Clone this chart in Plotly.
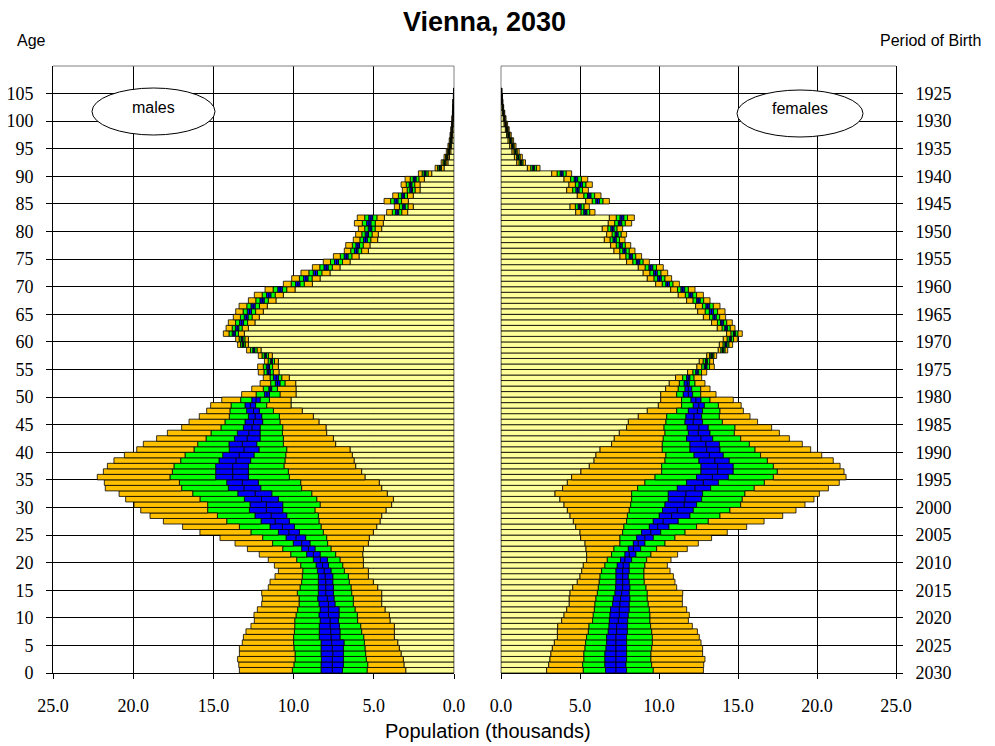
import plotly.graph_objects as go

# ---------------- data (thousands) ----------------
ages = list(range(106))

# males: boundaries from 0 outward: yellow end, orange, green, blue(median), blue, green, orange(outer)
m_a = [3.01, 3.12, 3.16, 3.30, 3.41, 3.51, 3.72, 3.72, 3.72, 3.99, 4.03, 4.30, 4.51, 4.51, 4.51, 4.76, 5.03, 5.34, 5.34,
       5.65, 5.65, 5.69, 5.65, 5.34, 5.28, 5.03, 4.82, 4.61, 4.51, 4.24, 3.89, 3.78, 4.16, 4.51, 4.66, 5.55, 5.76, 6.13, 6.23,
       6.34, 6.48, 7.38, 7.52, 7.94, 7.98, 8.42, 8.77, 9.46, 10.16, 10.16, 9.85, 9.85, 9.87, 10.27,
       10.91, 10.95, 10.95, 11.33, 12.03, 12.82, 12.82, 13.07, 12.82, 12.41, 12.14, 11.89, 11.64, 11.10, 10.64, 9.91, 8.83,
       8.35, 7.73, 7.11, 6.48, 5.92, 5.34, 5.24, 4.76, 4.72, 4.51, 4.41, 4.34, 2.89, 2.54, 2.85, 2.54, 2.12, 2.12, 1.85, 1.39, 0.62,
       0.38, 0.28, 0.20, 0.15, 0.12, 0.10, 0.08, 0.06, 0.05, 0.04, 0.03, 0.02, 0.015, 0.01]
m_b = [5.42, 5.38, 5.47, 5.51, 5.55, 5.59, 5.63, 5.76, 5.82, 6.01, 6.03, 6.17, 6.28, 6.28, 6.38, 6.42, 6.53, 6.59, 6.84,
       6.94, 7.11, 7.38, 7.67, 7.88, 7.94, 8.15, 8.29, 8.42, 8.46, 8.67, 8.35, 8.56, 8.87, 9.50, 9.56, 10.27, 10.33, 10.60, 10.54,
       10.49, 10.43, 10.64, 10.64, 10.70, 10.68, 10.85, 10.89, 11.26, 11.68, 11.51, 10.85, 11.01, 10.54, 10.74,
       11.27, 11.31, 11.19, 11.57, 12.28, 13.01, 13.04, 13.44, 13.21, 12.87, 12.59, 12.37, 12.13, 11.58, 11.15, 10.43, 9.34,
       8.85, 8.24, 7.59, 6.95, 6.37, 5.76, 5.66, 5.19, 5.11, 4.92, 4.91, 4.81, 3.26, 2.87, 3.27, 2.90, 2.43, 2.45, 2.19, 1.62, 0.78,
       0.50, 0.38, 0.28, 0.21, 0.17, 0.14, 0.11, 0.09, 0.07, 0.06, 0.045, 0.03, 0.022, 0.016]
m_c = [6.96, 6.90, 6.90, 6.90, 6.90, 6.86, 7.11, 7.11, 7.15, 7.21, 7.17, 7.17, 7.42, 7.48, 7.52, 7.52, 7.56, 7.56, 7.67,
       7.83, 7.90, 8.35, 8.67, 8.98, 9.25, 9.64, 9.95, 10.27, 10.43, 10.68, 10.68, 10.95, 11.36, 12.05, 12.20, 12.82, 12.82,
       12.82, 12.68, 12.47, 12.16, 12.30, 12.09, 12.09, 12.09, 11.93, 11.99, 12.14, 12.37, 12.09, 11.51, 11.37, 10.85, 10.95,
       11.46, 11.50, 11.32, 11.70, 12.42, 13.11, 13.16, 13.63, 13.42, 13.12, 12.84, 12.63, 12.40, 11.84, 11.42, 10.71, 9.61,
       9.11, 8.51, 7.85, 7.20, 6.61, 5.99, 5.89, 5.41, 5.33, 5.13, 5.18, 5.07, 3.45, 3.05, 3.50, 3.09, 2.59, 2.63, 2.37, 1.75, 0.86,
       0.56, 0.43, 0.32, 0.25, 0.20, 0.16, 0.13, 0.10, 0.08, 0.065, 0.05, 0.035, 0.026, 0.019]
m_m = [7.59, 7.59, 7.59, 7.56, 7.59, 7.63, 7.67, 7.69, 7.73, 7.73, 7.83, 7.83, 7.83, 7.90, 8.00, 8.00, 8.00, 8.04, 8.10,
       8.20, 8.33, 8.77, 9.08, 9.50, 9.86, 10.30, 10.70, 11.15, 11.40, 11.70, 11.70, 12.00, 12.40, 13.10, 13.20, 13.80, 13.80,
       13.80, 13.60, 13.40, 13.10, 13.20, 12.90, 12.80, 12.60, 12.50, 12.40, 12.50, 12.70, 12.35, 11.67, 11.46, 11.00, 11.10,
       11.56, 11.60, 11.39, 11.77, 12.48, 13.16, 13.22, 13.73, 13.52, 13.24, 12.95, 12.75, 12.52, 11.96, 11.55, 10.85, 9.74,
       9.24, 8.64, 7.97, 7.32, 6.72, 6.09, 6.00, 5.52, 5.43, 5.24, 5.31, 5.19, 3.55, 3.13, 3.61, 3.18, 2.67, 2.71, 2.45, 1.81, 0.90,
       0.59, 0.45, 0.34, 0.27, 0.21, 0.17, 0.14, 0.11, 0.09, 0.07, 0.055, 0.04, 0.028, 0.02]
m_d = [8.29, 8.29, 8.27, 8.29, 8.29, 8.29, 8.40, 8.40, 8.40, 8.35, 8.42, 8.35, 8.42, 8.50, 8.46, 8.46, 8.46, 8.46, 8.52,
       8.60, 8.77, 9.19, 9.50, 10.02, 10.47, 10.95, 11.47, 12.03, 12.41, 12.76, 12.72, 13.07, 13.48, 14.07, 14.17, 14.86, 14.86,
       14.86, 14.65, 14.42, 14.01, 14.03, 13.69, 13.51, 13.13, 13.03, 12.82, 12.93, 13.03, 12.61, 11.82, 11.55, 11.14, 11.26,
       11.66, 11.70, 11.45, 11.83, 12.55, 13.21, 13.28, 13.83, 13.63, 13.37, 13.08, 12.89, 12.66, 12.10, 11.69, 10.99, 9.88,
       9.38, 8.78, 8.11, 7.45, 6.85, 6.21, 6.12, 5.64, 5.54, 5.35, 5.45, 5.32, 3.65, 3.22, 3.73, 3.28, 2.76, 2.80, 2.55, 1.87, 0.94,
       0.62, 0.48, 0.36, 0.28, 0.22, 0.19, 0.15, 0.12, 0.10, 0.075, 0.06, 0.045, 0.03, 0.022]
m_e = [10.08, 9.98, 9.91, 9.91, 9.98, 10.00, 10.00, 9.95, 9.93, 9.93, 9.85, 9.75, 9.66, 9.66, 9.77, 9.60, 9.50, 9.46, 9.43,
       9.56, 9.81, 10.18, 10.68, 11.31, 11.93, 12.66, 13.38, 14.17, 14.75, 15.36, 15.36, 15.84, 16.29, 16.98, 17.12, 17.71,
       17.56, 17.46, 17.04, 16.77, 16.21, 15.98, 15.46, 15.15, 14.53, 14.28, 14.01, 13.97, 13.90, 13.30, 12.34, 11.89, 11.43, 11.47,
       11.85, 11.89, 11.59, 11.97, 12.69, 13.31, 13.40, 14.03, 13.83, 13.62, 13.32, 13.15, 12.92, 12.36, 11.96, 11.28, 10.15,
       9.64, 9.05, 8.37, 7.70, 7.09, 6.44, 6.34, 5.87, 5.75, 5.57, 5.72, 5.57, 3.85, 3.40, 3.95, 3.47, 2.92, 2.98, 2.73, 1.99, 1.03,
       0.69, 0.53, 0.40, 0.32, 0.25, 0.21, 0.17, 0.13, 0.11, 0.085, 0.065, 0.05, 0.033, 0.025]
m_f = [13.38, 13.42, 13.49, 13.38, 13.38, 13.20, 13.13, 12.97, 12.66, 12.45, 12.47, 12.26, 11.99, 11.95, 11.99, 11.58, 11.47,
       11.16, 10.95,
       11.20, 11.58, 12.14, 12.88, 13.65, 14.59, 15.84, 16.92, 18.12, 18.95, 19.53, 19.95, 20.47, 20.88, 21.74, 21.80, 22.24,
       21.86, 21.61, 21.20, 20.55, 19.78, 19.37, 18.54, 17.87, 16.98, 16.52, 15.88, 15.42, 15.17, 14.48, 13.24, 12.61, 12.09, 11.89,
       12.20, 12.24, 11.82, 12.20, 12.93, 13.49, 13.61, 14.38, 14.21, 14.07, 13.76, 13.61, 13.40, 12.82, 12.45, 11.78, 10.64,
       10.12, 9.54, 8.83, 8.15, 7.52, 6.84, 6.75, 6.28, 6.13, 5.96, 6.21, 6.03, 4.20, 3.72, 4.36, 3.82, 3.22, 3.30, 3.05, 2.22, 1.18,
       0.80, 0.62, 0.48, 0.38, 0.30, 0.25, 0.20, 0.16, 0.13, 0.10, 0.08, 0.06, 0.04, 0.03]

# females
f_a = [2.89, 3.02, 3.10, 3.16, 3.25, 3.38, 3.57, 3.57, 3.59, 3.84, 3.99, 4.16, 4.32, 4.32, 4.37, 4.54, 4.83, 5.00, 5.11, 5.21,
       5.42, 5.42, 5.38, 5.32,
       5.04, 5.00, 4.73, 4.58, 4.37, 4.20, 3.99, 3.73, 3.42, 3.90, 4.20, 4.47, 5.06, 5.59, 5.89, 6.01, 6.27, 7.00, 7.17, 7.49,
       7.95, 8.06, 8.69, 9.26, 9.96, 10.11, 10.11, 10.42, 10.65, 11.05,
       11.81, 12.40, 12.55, 13.02, 13.75, 13.82, 14.07, 14.28, 13.69, 13.33, 12.81, 12.45, 12.32, 11.75, 11.22, 10.74, 9.79,
       9.26, 9.00, 8.69, 7.95, 7.53, 7.15, 6.94, 6.54, 6.69, 6.41, 6.79, 6.86, 4.73, 4.37, 5.36, 4.83, 4.16, 4.30, 3.99, 3.21, 1.67,
       1.00, 0.85, 0.70, 0.55, 0.45, 0.35, 0.28, 0.20, 0.15, 0.10, 0.07, 0.05, 0.03, 0.02]
f_b = [5.21, 5.17, 5.25, 5.25, 5.32, 5.36, 5.42, 5.53, 5.57, 5.80, 5.84, 5.91, 5.95, 6.01, 6.10, 6.16, 6.22, 6.27, 6.37, 6.58,
       6.73, 7.00, 7.15, 7.53,
       7.53, 7.70, 7.78, 7.95, 8.00, 8.12, 8.21, 8.27, 8.27, 8.65, 9.11, 9.75, 10.17, 10.17, 10.38, 10.44, 10.21, 10.21, 10.27,
       10.38, 10.32, 10.44, 10.49, 11.12, 11.43, 11.43, 11.12, 11.22, 11.29, 11.50,
       12.15, 12.71, 12.80, 13.20, 13.92, 14.06, 14.32, 14.56, 14.00, 13.70, 13.20, 12.93, 12.75, 12.16, 11.67, 11.17, 10.21,
       9.69, 9.43, 9.13, 8.35, 7.91, 7.52, 7.30, 6.91, 7.04, 6.77, 7.20, 7.30, 5.07, 4.71, 5.78, 5.25, 4.54, 4.71, 4.41, 3.56, 1.89,
       1.15, 0.99, 0.83, 0.66, 0.55, 0.43, 0.35, 0.26, 0.20, 0.14, 0.10, 0.07, 0.044, 0.028]
f_c = [6.62, 6.58, 6.58, 6.58, 6.65, 6.69, 6.69, 6.79, 6.84, 6.86, 6.90, 6.94, 7.07, 7.11, 7.22, 7.26, 7.28, 7.28, 7.28, 7.36,
       7.57, 7.85, 8.06, 8.38,
       8.59, 8.90, 9.39, 9.64, 10.02, 10.23, 10.38, 10.59, 10.59, 11.16, 11.75, 12.38, 12.66, 12.66, 12.53, 12.22, 11.96, 11.96,
       11.75, 11.86, 11.79, 11.65, 11.71, 11.86, 12.17, 12.03, 11.54, 11.65, 11.60, 11.75,
       12.33, 12.87, 12.94, 13.29, 14.01, 14.18, 14.45, 14.71, 14.17, 13.89, 13.42, 13.19, 12.98, 12.39, 11.90, 11.40, 10.44,
       9.92, 9.67, 9.37, 8.57, 8.12, 7.72, 7.49, 7.10, 7.23, 6.96, 7.43, 7.54, 5.25, 4.89, 6.01, 5.48, 4.75, 4.94, 4.64, 3.75, 2.01,
       1.24, 1.07, 0.89, 0.72, 0.60, 0.48, 0.38, 0.29, 0.22, 0.16, 0.11, 0.08, 0.05, 0.033]
f_m = [7.28, 7.28, 7.28, 7.28, 7.28, 7.28, 7.28, 7.32, 7.32, 7.43, 7.49, 7.49, 7.53, 7.57, 7.64, 7.70, 7.70, 7.70, 7.70, 7.74,
       7.85, 8.12, 8.38, 8.69,
       9.11, 9.49, 9.92, 10.27, 10.80, 11.16, 11.60, 11.65, 11.71, 12.28, 12.81, 13.38, 13.71, 13.71, 13.54, 13.19, 13.02, 12.97,
       12.66, 12.49, 12.53, 12.17, 12.22, 12.43, 12.53, 12.34, 11.86, 11.86, 11.79, 11.86,
       12.42, 12.95, 13.00, 13.34, 14.05, 14.24, 14.52, 14.78, 14.25, 13.99, 13.52, 13.32, 13.09, 12.49, 12.02, 11.51, 10.54,
       10.03, 9.78, 9.48, 8.67, 8.22, 7.82, 7.58, 7.20, 7.32, 7.06, 7.53, 7.65, 5.34, 4.98, 6.11, 5.58, 4.85, 5.04, 4.74, 3.84, 2.07,
       1.28, 1.10, 0.93, 0.75, 0.63, 0.50, 0.40, 0.31, 0.23, 0.17, 0.12, 0.085, 0.055, 0.035]
f_d = [7.95, 7.91, 7.95, 7.95, 7.95, 7.95, 7.95, 8.00, 8.00, 8.02, 8.06, 8.12, 8.12, 8.16, 8.12, 8.16, 8.12, 8.06, 8.12, 8.12,
       8.27, 8.54, 8.84, 9.11,
       9.64, 10.11, 10.63, 11.22, 11.96, 12.17, 12.38, 12.70, 12.76, 13.27, 13.76, 14.39, 14.70, 14.70, 14.45, 14.07, 13.86,
       13.82, 13.40, 13.23, 13.12, 12.76, 12.70, 12.76, 12.87, 12.66, 12.13, 12.07, 11.92, 11.96,
       12.51, 13.04, 13.07, 13.39, 14.10, 14.31, 14.59, 14.85, 14.34, 14.09, 13.63, 13.45, 13.21, 12.61, 12.14, 11.63, 10.66,
       10.15, 9.90, 9.61, 8.79, 8.32, 7.92, 7.68, 7.30, 7.42, 7.16, 7.65, 7.78, 5.44, 5.08, 6.23, 5.70, 4.95, 5.16, 4.86, 3.94, 2.13,
       1.32, 1.14, 0.96, 0.78, 0.65, 0.52, 0.42, 0.33, 0.25, 0.18, 0.13, 0.09, 0.06, 0.037]
f_e = [9.64, 9.54, 9.49, 9.49, 9.54, 9.58, 9.58, 9.54, 9.47, 9.43, 9.43, 9.39, 9.32, 9.26, 9.26, 9.18, 9.07, 9.05, 9.05, 9.11,
       9.22, 9.49, 9.85, 10.38,
       11.01, 11.65, 12.38, 13.12, 13.86, 14.49, 15.17, 15.27, 15.44, 16.03, 16.67, 17.24, 17.49, 17.24, 16.86, 16.43, 16.08,
       15.72, 15.17, 14.77, 14.81, 14.01, 13.82, 13.86, 13.76, 13.23, 12.64, 12.64, 12.28, 12.22,
       12.69, 13.20, 13.21, 13.48, 14.19, 14.43, 14.72, 15.00, 14.51, 14.29, 13.84, 13.71, 13.44, 12.83, 12.38, 11.86, 10.89,
       10.38, 10.13, 9.84, 9.00, 8.53, 8.12, 7.87, 7.50, 7.61, 7.35, 7.87, 8.01, 5.62, 5.26, 6.46, 5.93, 5.16, 5.38, 5.09, 4.13, 2.25,
       1.40, 1.22, 1.03, 0.84, 0.71, 0.57, 0.46, 0.36, 0.27, 0.20, 0.14, 0.10, 0.067, 0.042]
f_f = [12.81, 12.83, 12.91, 12.76, 12.76, 12.66, 12.55, 12.43, 12.11, 11.86, 11.92, 11.75, 11.48, 11.48, 11.50, 11.12, 11.01,
       10.91, 10.70, 10.53, 10.76, 11.18, 11.79, 12.49,
       13.33, 14.32, 15.55, 16.65, 17.83, 18.67, 19.24, 19.81, 20.15, 20.72, 21.41, 21.84, 21.71, 21.46, 21.03, 20.30, 19.60,
       19.07, 18.25, 17.62, 17.13, 16.24, 15.76, 15.34, 15.20, 14.70, 13.61, 13.23, 12.91, 12.70,
       13.02, 13.50, 13.45, 13.65, 14.35, 14.66, 14.96, 15.27, 14.81, 14.64, 14.22, 14.18, 13.86, 13.23, 12.81, 12.28, 11.29,
       10.80, 10.55, 10.27, 9.39, 8.90, 8.48, 8.21, 7.85, 7.95, 7.70, 8.27, 8.44, 5.95, 5.59, 6.86, 6.33, 5.53, 5.78, 5.49, 4.47, 2.47,
       1.55, 1.35, 1.15, 0.95, 0.80, 0.65, 0.52, 0.42, 0.32, 0.24, 0.17, 0.12, 0.08, 0.05]

age_tickvals = [0, 5, 10, 15, 20, 25, 30, 35, 40, 45, 50, 55, 60, 65, 70, 75, 80, 85, 90, 95, 100, 105]
age_ticktext = ["0", "5", "10", "15", "20", "25", "30", "35", "40", "45", "50", "55", "60", "65", "70", "75",
                "80", "85", "90", "95", "100", "105"]
birth_ticktext = ["2030", "2025", "2020", "2015", "2010", "2005", "2000", "1995", "1990", "1985", "1980", "1975",
                  "1970", "1965", "1960", "1955", "1950", "1945", "1940", "1935", "1930", "1925"]
pop_tickvals = [0, 5, 10, 15, 20, 25]
pop_ticktext = ["0.0", "5.0", "10.0", "15.0", "20.0", "25.0"]

YELLOW = "#FFFF99"
ORANGE = "#FFC000"
GREEN = "#00FF00"
BLUE = "#0000FF"
seg_colors = [YELLOW, ORANGE, GREEN, BLUE, BLUE, GREEN, ORANGE]

W, H = 995, 746
fig = go.Figure()


def add_pyramid(bounds, xa, ya):
    zero = [0.0] * len(ages)
    full = [zero] + bounds
    ypos = [a + 0.5 for a in ages]
    for i in range(7):
        lo = full[i]
        hi = full[i + 1]
        fig.add_trace(go.Bar(
            y=ypos, x=[h - l for h, l in zip(hi, lo)], base=lo, orientation="h",
            width=1.0, marker=dict(color=seg_colors[i], line=dict(color="#000000", width=0.8)),
            xaxis=xa, yaxis=ya, showlegend=False, hoverinfo="skip"))


add_pyramid([m_a, m_b, m_c, m_m, m_d, m_e, m_f], "x", "y")
add_pyramid([f_a, f_b, f_c, f_m, f_d, f_e, f_f], "x2", "y2")

px = lambda v: v / W
py = lambda v: 1 - v / H

L0, L1 = 53, 454
R0, R1 = 501, 896
T, B = 66, 673

serif = dict(family="Liberation Serif", size=18, color="#000")
sans = "Liberation Sans"

common_x = dict(showgrid=True, gridcolor="#000", gridwidth=1, zeroline=False, showline=True, linecolor="#000",
                linewidth=1, ticks="outside", ticklen=5, tickcolor="#000", tickvals=pop_tickvals,
                ticktext=pop_ticktext, tickfont=serif, ticklabelstandoff=11, fixedrange=True, automargin=False)
common_y = dict(range=[0, 110], showgrid=True, gridcolor="#000", gridwidth=1, zeroline=False, showline=True,
                linecolor="#000", linewidth=1, ticks="outside", ticklen=6, tickcolor="#000",
                tickvals=age_tickvals, tickfont=serif, ticklabelstandoff=9,
                domain=[1 - B / H, 1 - T / H], fixedrange=True, automargin=False)

fig.update_layout(
    width=W, height=H, autosize=False,
    margin=dict(l=0, r=0, t=0, b=0, pad=0, autoexpand=False),
    paper_bgcolor="white", plot_bgcolor="white",
    barmode="overlay", bargap=0,
    xaxis=dict(common_x, domain=[px(L0), px(L1)], range=[25, 0], anchor="y"),
    xaxis2=dict(common_x, domain=[px(R0), px(R1)], range=[0, 25], anchor="y2"),
    yaxis=dict(common_y, anchor="x", side="left", ticktext=age_ticktext),
    yaxis2=dict(common_y, anchor="x2", side="right", ticktext=birth_ticktext),
)

shapes = []
# gray frame lines (top and inner edges)
for (x0, x1) in [(L0, L1), (R0, R1)]:
    shapes.append(dict(type="line", xref="paper", yref="paper", x0=px(x0), x1=px(x1), y0=py(T), y1=py(T),
                       line=dict(color="#808080", width=1)))
shapes.append(dict(type="line", xref="paper", yref="paper", x0=px(L1), x1=px(L1), y0=py(T), y1=py(B),
                   line=dict(color="#808080", width=1), layer="below"))
shapes.append(dict(type="line", xref="paper", yref="paper", x0=px(R0), x1=px(R0), y0=py(T), y1=py(B),
                   line=dict(color="#808080", width=1), layer="below"))
# ellipses
shapes.append(dict(type="circle", xref="paper", yref="paper", x0=px(92), x1=px(215), y0=py(135), y1=py(88),
                   line=dict(color="#000", width=1), fillcolor="white", layer="above"))
shapes.append(dict(type="circle", xref="paper", yref="paper", x0=px(737), x1=px(863), y0=py(137), y1=py(90),
                   line=dict(color="#000", width=1), fillcolor="white", layer="above"))

annotations = [
    dict(text="<b>Vienna, 2030</b>", x=px(484), y=py(22), xref="paper", yref="paper", showarrow=False,
         font=dict(family=sans, size=27, color="#000"), xanchor="center", yanchor="middle"),
    dict(text="Age", x=px(31), y=py(40), xref="paper", yref="paper", showarrow=False,
         font=dict(family=sans, size=16, color="#000"), xanchor="center", yanchor="middle"),
    dict(text="Period of Birth", x=px(930), y=py(40), xref="paper", yref="paper", showarrow=False,
         font=dict(family=sans, size=16, color="#000"), xanchor="center", yanchor="middle"),
    dict(text="Population (thousands)", x=px(488), y=py(731), xref="paper", yref="paper", showarrow=False,
         font=dict(family=sans, size=20, color="#000"), xanchor="center", yanchor="middle"),
    dict(text="males", x=px(153), y=py(108), xref="paper", yref="paper", showarrow=False,
         font=dict(family=sans, size=16, color="#000"), xanchor="center", yanchor="middle"),
    dict(text="females", x=px(800), y=py(109), xref="paper", yref="paper", showarrow=False,
         font=dict(family=sans, size=16, color="#000"), xanchor="center", yanchor="middle"),
]
fig.update_layout(shapes=shapes, annotations=annotations)

fig.write_html("out.html", config={"displayModeBar": False, "staticPlot": True},
               post_script="document.body.style.margin='0';document.body.style.overflow='hidden';")
